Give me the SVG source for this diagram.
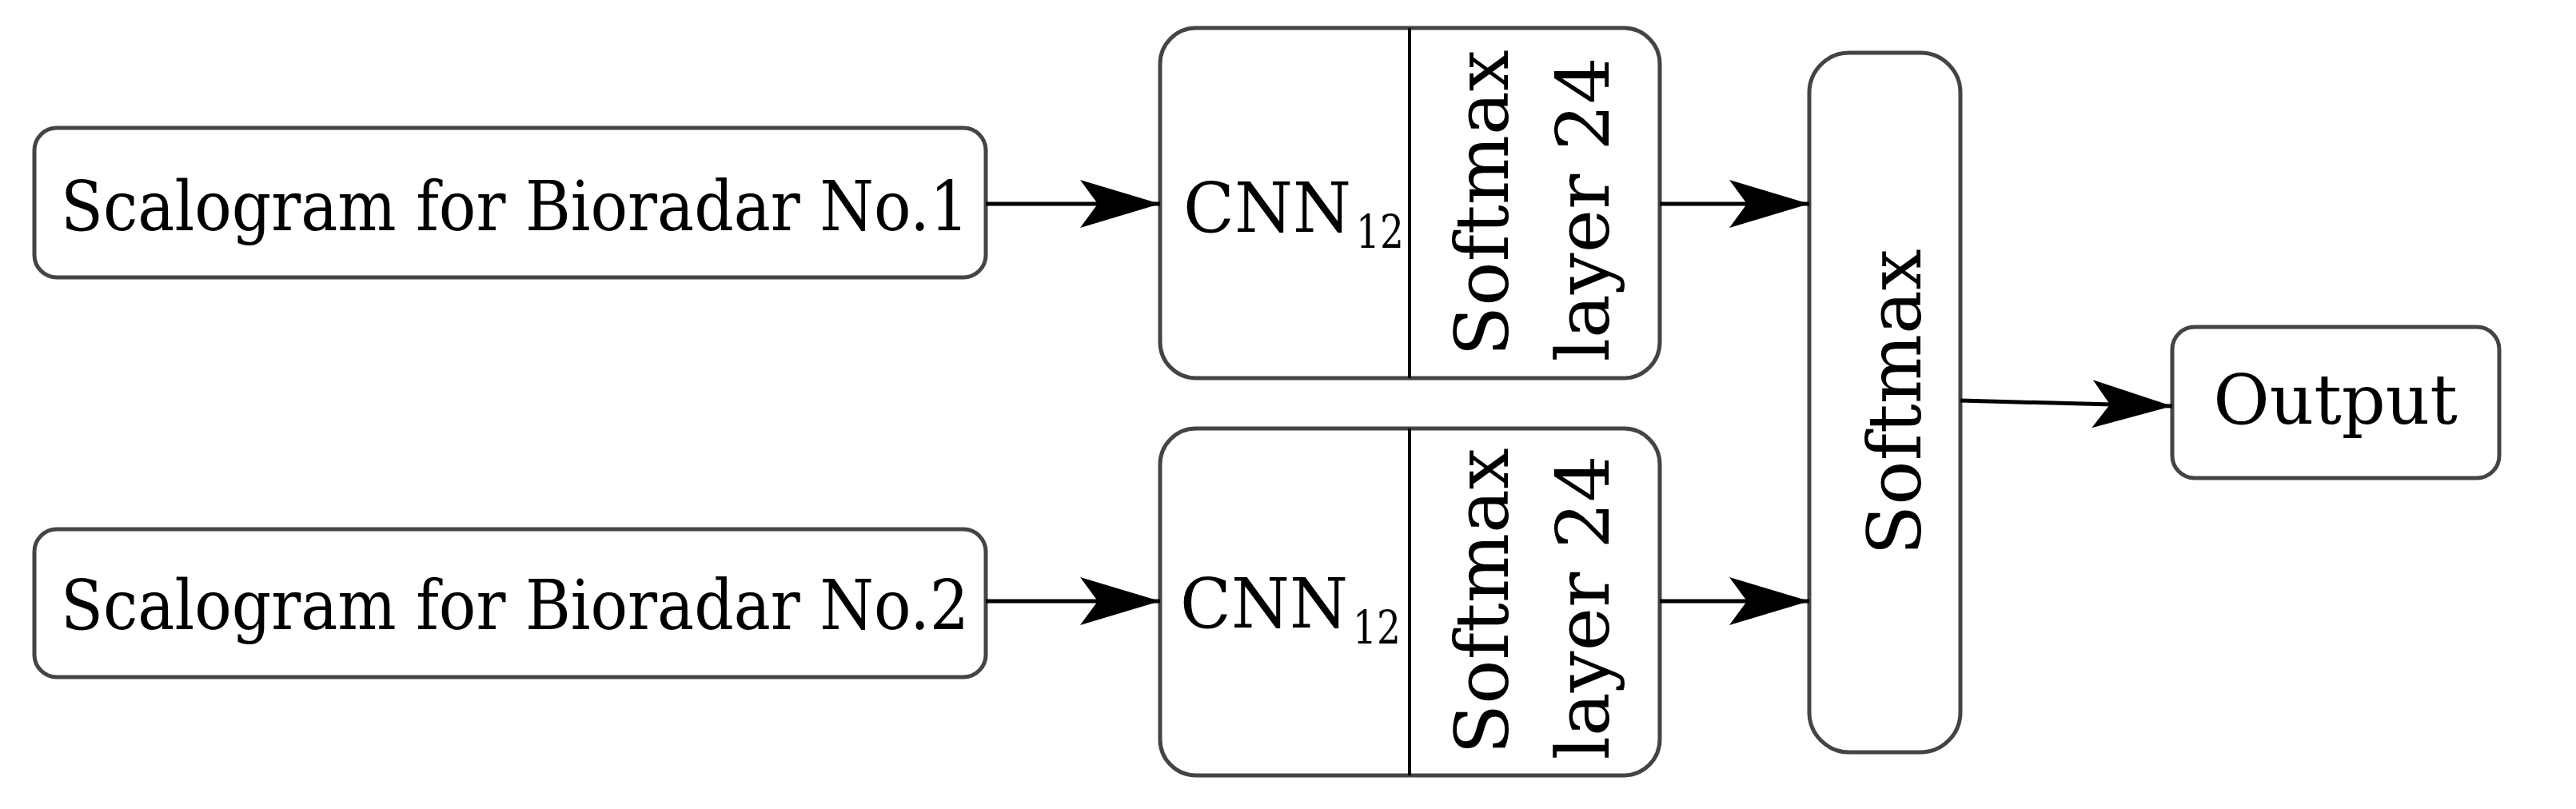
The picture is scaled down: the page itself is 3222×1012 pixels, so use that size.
<svg xmlns="http://www.w3.org/2000/svg" width="3222" height="1012" viewBox="0 0 3222 1012">
<style>
.box{fill:#fff;stroke:#444;stroke-width:5}
.div{stroke:#000;stroke-width:4}
.t{font-family:"DejaVu Serif","Liberation Serif",serif;font-size:86px;fill:#000}
.v{font-size:92px}
.c{stroke:#000;stroke-width:5;fill:none}
</style>
<defs><marker id="a" markerUnits="userSpaceOnUse" markerWidth="100" markerHeight="60" refX="100" refY="30" orient="auto"><path d="M0,0 L100,30 L0,60 L22,30 Z" fill="#000"/></marker></defs>
<g id="s1"><rect class="box" x="43" y="160" width="1190" height="187" rx="28"/><text class="t" x="76" y="288" textLength="1136" lengthAdjust="spacingAndGlyphs">Scalogram for Bioradar No.1</text></g>
<g id="s2"><rect class="box" x="43" y="662" width="1190" height="185" rx="28"/><text class="t" x="76" y="787" textLength="1136" lengthAdjust="spacingAndGlyphs">Scalogram for Bioradar No.2</text></g>
<g id="c1"><rect class="box" x="1451" y="35" width="625" height="438" rx="45"/><line class="div" x1="1763" y1="35" x2="1763" y2="473"/>
<text class="t" x="1480" y="290" textLength="210" lengthAdjust="spacingAndGlyphs">CNN</text><text class="t" style="font-size:58px" x="1696" y="310" textLength="60" lengthAdjust="spacingAndGlyphs">12</text>
<text class="t v" transform="translate(1886,254) rotate(-90)" text-anchor="middle">Softmax</text><text class="t v" transform="translate(2012,262) rotate(-90)" text-anchor="middle">layer 24</text></g>
<g id="c2"><rect class="box" x="1451" y="536" width="625" height="434" rx="45"/><line class="div" x1="1763" y1="536" x2="1763" y2="970"/>
<text class="t" x="1476" y="785" textLength="210" lengthAdjust="spacingAndGlyphs">CNN</text><text class="t" style="font-size:58px" x="1692" y="805" textLength="60" lengthAdjust="spacingAndGlyphs">12</text>
<text class="t v" transform="translate(1886,752) rotate(-90)" text-anchor="middle">Softmax</text><text class="t v" transform="translate(2012,760) rotate(-90)" text-anchor="middle">layer 24</text></g>
<g id="sm"><rect class="box" x="2263" y="66" width="189" height="875" rx="50"/><text class="t v" transform="translate(2402,503) rotate(-90)" text-anchor="middle">Softmax</text></g>
<g id="out"><rect class="box" x="2717" y="409" width="409" height="189" rx="28"/><text class="t" x="2921" y="530" text-anchor="middle">Output</text></g>
<g id="connectors">
<line class="c" x1="1233" y1="255" x2="1451" y2="255" marker-end="url(#a)"/>
<line class="c" x1="1233" y1="752" x2="1451" y2="752" marker-end="url(#a)"/>
<line class="c" x1="2076" y1="255" x2="2263" y2="255" marker-end="url(#a)"/>
<line class="c" x1="2076" y1="752" x2="2263" y2="752" marker-end="url(#a)"/>
<line class="c" x1="2452" y1="501" x2="2717" y2="508" marker-end="url(#a)"/>
</g>
</svg>
